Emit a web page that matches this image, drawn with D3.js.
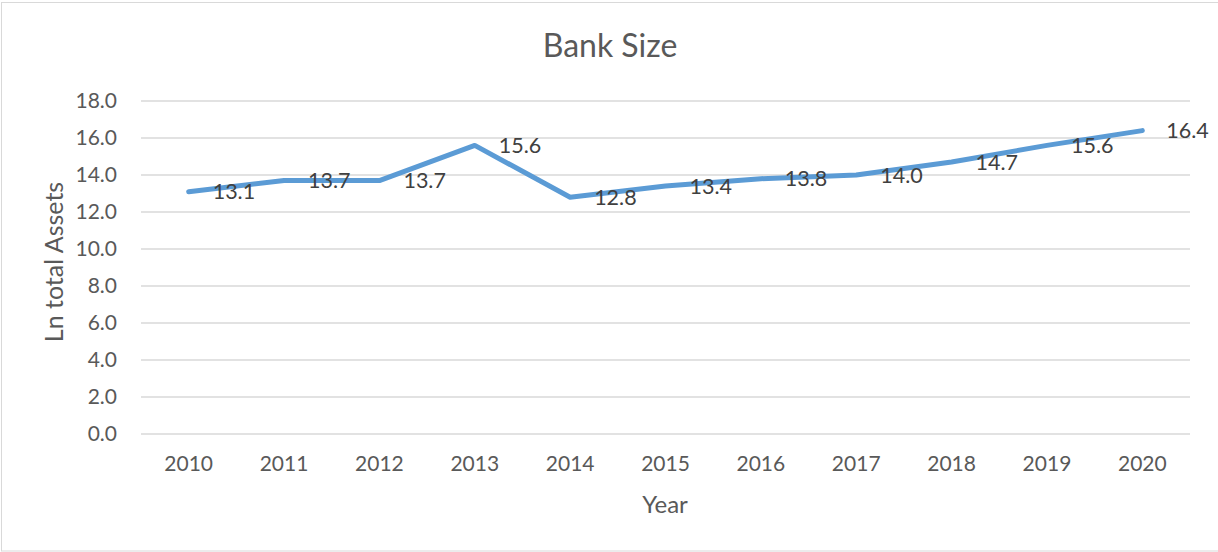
<!DOCTYPE html>
<html>
<head>
<meta charset="utf-8">
<script src="https://cdn.jsdelivr.net/npm/d3@7"></script>
<style>
  body { margin: 0; background: #fff; }
  text { font-family: Lato, "Open Sans", sans-serif; fill: #595959; }
  .grid line { stroke: #d9d9d9; stroke-width: 1.5; }
  .line { fill: none; stroke: #5b9bd5; stroke-width: 5; stroke-linejoin: round; stroke-linecap: round; }
  .label { fill: #404040; }
</style>
</head>
<body>
<svg id="chart" width="1218" height="552"></svg>
<script>
// data
var years = ["2010", "2011", "2012", "2013", "2014", "2015", "2016", "2017", "2018", "2019", "2020"];
var lnAssets = [13.1, 13.7, 13.7, 15.6, 12.8, 13.4, 13.8, 14.0, 14.7, 15.6, 16.4];
var yTicks = [0, 2, 4, 6, 8, 10, 12, 14, 16, 18];

var svg = d3.select("#chart"),
    margin = {top: 101, right: 28, bottom: 118, left: 141},
    width = svg.attr("width") - margin.left - margin.right,
    height = svg.attr("height") - margin.top - margin.bottom;

// chart border
svg.append("rect")
    .attr("x", 1.5).attr("y", 2.5)
    .attr("width", 1230).attr("height", 548.5)
    .attr("fill", "none").attr("stroke", "#d9d9d9");

var g = svg.append("g").attr("transform", "translate(" + margin.left + "," + margin.top + ")");

var x = d3.scaleBand().domain(years).range([0, width]),
    y = d3.scaleLinear().domain([0, 18]).range([height, 0]);

var data = years.map(function(yr, i) { return {year: yr, value: lnAssets[i]}; });

// gridlines
g.append("g")
    .attr("class", "grid")
    .selectAll("line")
    .data(yTicks)
    .enter().append("line")
    .attr("x1", 0).attr("x2", width)
    .attr("y1", function(d) { return y(d); })
    .attr("y2", function(d) { return y(d); });

// y axis labels
var yAxis = g.append("g")
    .call(d3.axisLeft(y).tickValues(yTicks).tickFormat(d3.format(".1f")).tickSize(0).tickPadding(24));
yAxis.select(".domain").remove();
yAxis.selectAll("text").style("font-size", "21px").attr("fill", "#595959");

// x axis labels
var xAxis = g.append("g")
    .attr("transform", "translate(0," + height + ")")
    .call(d3.axisBottom(x).tickSize(0).tickPadding(22));
xAxis.select(".domain").remove();
xAxis.selectAll("text").style("font-size", "21px").attr("fill", "#595959");

// the line
var line = d3.line()
    .x(function(d) { return x(d.year) + x.bandwidth() / 2; })
    .y(function(d) { return y(d.value); });

g.append("path")
    .datum(data)
    .attr("class", "line")
    .attr("d", line);

// data labels, to the right of each point
g.selectAll(".label")
    .data(data)
    .enter().append("text")
    .attr("class", "label")
    .attr("x", function(d) { return x(d.year) + x.bandwidth() / 2 + 24; })
    .attr("y", function(d) { return y(d.value); })
    .attr("dy", "0.35em")
    .style("font-size", "21.5px")
    .text(function(d) { return d.value.toFixed(1); });

// title
svg.append("text")
    .attr("x", 610).attr("y", 57)
    .attr("text-anchor", "middle")
    .style("font-size", "32px")
    .text("Bank Size");

// axis titles
svg.append("text")
    .attr("x", 665).attr("y", 513)
    .attr("text-anchor", "middle")
    .style("font-size", "24px")
    .text("Year");

svg.append("text")
    .attr("transform", "translate(63,262) rotate(-90)")
    .attr("text-anchor", "middle")
    .style("font-size", "25px")
    .text("Ln total Assets");
</script>
</body>
</html>
